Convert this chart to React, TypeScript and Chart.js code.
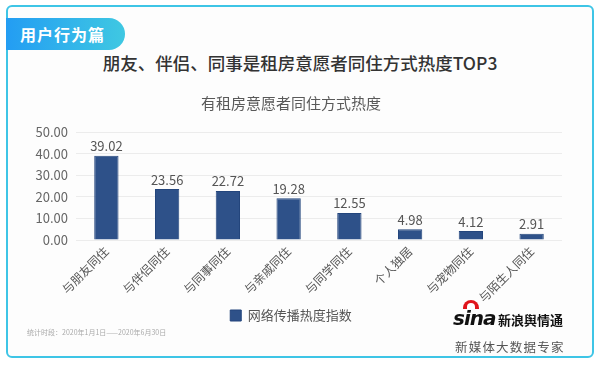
import React, { useEffect, useRef } from "react";
import { Chart, registerables } from "chart.js";

Chart.register(...registerables);

const categories = ["与朋友同住", "与伴侣同住", "与同事同住", "与亲戚同住", "与同学同住", "个人独居", "与宠物同住", "与陌生人同住"];
const values = [39.02, 23.56, 22.72, 19.28, 12.55, 4.98, 4.12, 2.91];
const seriesName = "网络传播热度指数";
const yMin = 0;
const yMax = 50;
const yStep = 10;

const FONT = "'Noto Sans CJK SC', 'Noto Sans', sans-serif";

const valueLabels = {
  id: "valueLabels",
  afterDatasetsDraw(chart: any) {
    const ctx = chart.ctx;
    const meta = chart.getDatasetMeta(0);
    ctx.save();
    ctx.font = `13px ${FONT}`;
    ctx.fillStyle = "#555";
    ctx.textAlign = "center";
    ctx.textBaseline = "bottom";
    meta.data.forEach((bar: any, i: number) => {
      ctx.fillText(values[i].toFixed(2), bar.x, bar.y - 3);
    });
    ctx.restore();
  },
};

function BarChart() {
  const ref = useRef<HTMLCanvasElement | null>(null);
  useEffect(() => {
    if (!ref.current) return;
    const chart = new Chart(ref.current, {
      type: "bar",
      data: {
        labels: categories,
        datasets: [
          {
            label: seriesName,
            data: values,
            backgroundColor: "#2e5189",
            borderColor: "#23457c",
            borderWidth: 1,
            barPercentage: 0.4,
            categoryPercentage: 1,
          },
        ],
      },
      options: {
        animation: false,
        responsive: false,
        maintainAspectRatio: false,
        layout: { padding: { left: 20, right: 38, top: 0, bottom: 0 } },
        plugins: {
          title: {
            display: true,
            text: "有租房意愿者同住方式热度",
            color: "#595959",
            font: { family: FONT, size: 15, weight: "normal" },
            padding: { top: 12, bottom: 20 },
          },
          legend: {
            position: "bottom",
            labels: {
              boxWidth: 11,
              boxHeight: 11,
              color: "#555",
              font: { family: FONT, size: 13 },
              padding: 8,
            },
          },
          tooltip: { enabled: false },
        },
        scales: {
          x: {
            grid: { display: false, drawTicks: false },
            border: { display: false },
            afterFit(scale: any) {
              scale.height = 61;
            },
            ticks: {
              color: "#555",
              font: { family: FONT, size: 12 },
              maxRotation: 45,
              minRotation: 45,
              padding: 4,
              autoSkip: false,
            },
          },
          y: {
            min: yMin,
            max: yMax,
            afterFit(scale: any) {
              scale.width = 56;
            },
            grid: { color: "#ececec", drawTicks: false, lineWidth: 1 },
            border: { display: false },
            ticks: {
              stepSize: yStep,
              autoSkip: false,
              color: "#666",
              font: { family: FONT, size: 13 },
              padding: 8,
              callback: (v: any) => Number(v).toFixed(2),
            },
          },
        },
      },
      plugins: [valueLabels],
    });
    return () => chart.destroy();
  }, []);
  return <canvas ref={ref} width={600} height={250} style={{ position: "absolute", left: 0, top: 82 }} />;
}

export default function App() {
  return (
    <div style={{ position: "fixed", left: 0, top: 0, width: 600, height: 365, background: "#fff", overflow: "hidden", fontFamily: FONT }}>
      <div
        style={{
          position: "absolute",
          left: 6,
          top: 5,
          width: 584,
          height: 349,
          border: "2px solid #3ec5e6",
          borderRadius: 6,
          background: "#fdfdfd",
        }}
      />
      <div
        style={{
          position: "absolute",
          left: 6,
          top: 18,
          width: 119,
          height: 32,
          borderRadius: "0 16px 16px 0",
          background: "linear-gradient(90deg, #239df3, #3fc8e2)",
          color: "#fff",
          fontSize: 16,
          fontWeight: "bold",
          lineHeight: "32px",
          paddingLeft: 14,
          boxSizing: "border-box",
          letterSpacing: 1,
        }}
      >
        用户行为篇
      </div>
      <div
        style={{
          position: "absolute",
          left: 0,
          top: 51,
          width: 600,
          textAlign: "center",
          fontSize: 17.5,
          fontWeight: 500,
          color: "#333",
          lineHeight: "24px",
        }}
      >
        朋友、伴侣、同事是租房意愿者同住方式热度TOP3
      </div>
      <BarChart />
      <div style={{ position: "absolute", left: 27, top: 327, fontSize: 7, color: "#aaa", whiteSpace: "nowrap" }}>
        统计时段：2020年1月1日——2020年6月30日
      </div>
      <div style={{ position: "absolute", left: 453, top: 300, width: 110, height: 32 }}>
        <div style={{ position: "absolute", left: 10, top: 0, width: 16, height: 9, borderRadius: "9px 9px 0 0", background: "#e0141b" }} />
        <div style={{ position: "absolute", left: 14, top: 3, width: 8, height: 6, borderRadius: "6px 6px 0 0", background: "#fff" }} />
        <div style={{ position: "absolute", left: 0, top: 6, fontSize: 20, fontStyle: "italic", fontWeight: 900, color: "#111", fontFamily: "'DejaVu Sans', sans-serif", letterSpacing: -1, lineHeight: "24px" }}>
          sina
        </div>
        <div style={{ position: "absolute", left: 45, top: 12, fontSize: 13, fontWeight: "bold", color: "#111", lineHeight: "16px", whiteSpace: "nowrap" }}>
          新浪舆情通
        </div>
      </div>
      <div style={{ position: "absolute", left: 455, top: 339, fontSize: 12.5, color: "#555", letterSpacing: 1.2, whiteSpace: "nowrap", lineHeight: "16px" }}>
        新媒体大数据专家
      </div>
    </div>
  );
}
